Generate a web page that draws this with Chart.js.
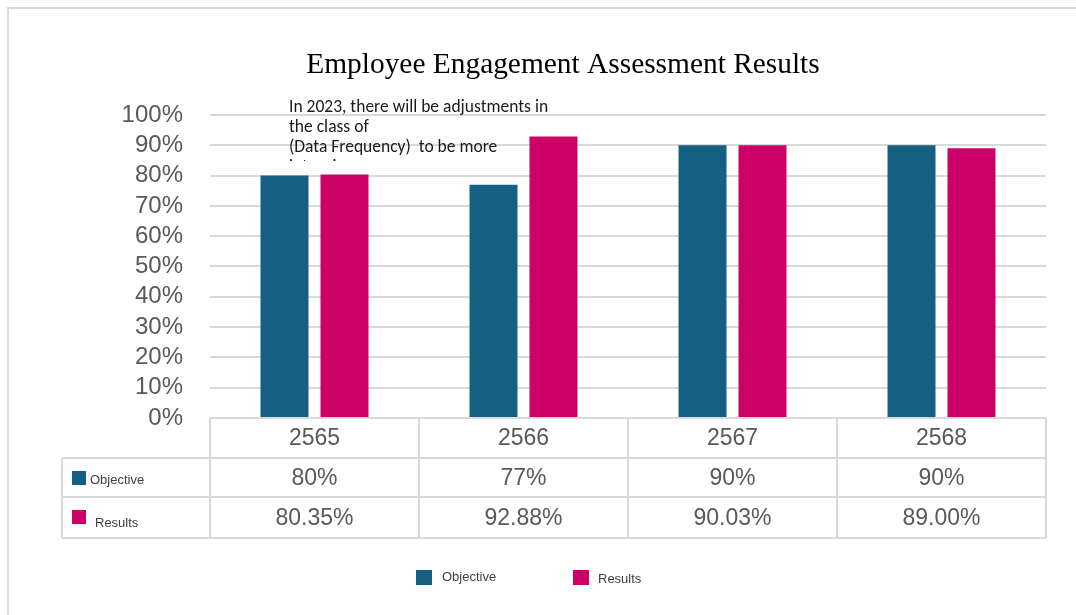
<!DOCTYPE html>
<html>
<head>
<meta charset="utf-8">
<script src="https://cdn.jsdelivr.net/npm/chart.js@4/dist/chart.umd.min.js"></script>
<style>
  html, body { margin: 0; padding: 0; background: #fff; }
  canvas { display: block; }
</style>
</head>
<body>
<canvas id="chart" width="1076" height="615"></canvas>
<script>
// chart data
const categories = ['2565', '2566', '2567', '2568']
const objective = [80, 77, 90, 90]
const results = [80.35, 92.88, 90.03, 89.00]
const seriesNames = ['Objective', 'Results']
const yTicks = [0, 10, 20, 30, 40, 50, 60, 70, 80, 90, 100]
const noteLines = ['In 2023, there will be adjustments in', 'the class of', '(Data Frequency)  to be more', 'intensive.']

const COLORS = ['#156082', '#cc0066']
const GRID = '#d9d9d9'
const TEXT = '#595959'
const SANS = '"Liberation Sans", Arial, sans-serif'

const fmtObjective = v => v + '%'
const fmtResults = v => v.toFixed(2) + '%'

// draws the data table under the plot, the frame, the note and the legend
const extras = {
  id: 'extras',
  afterDraw(chart){
    const ctx = chart.ctx
    const x = chart.scales.x
    const area = chart.chartArea
    const colW = (area.right - area.left) / categories.length
    const rows = [area.bottom, area.bottom + 40, area.bottom + 79, area.bottom + 120]
    const labelLeft = 62
    ctx.save()

    // frame
    ctx.strokeStyle = GRID; ctx.lineWidth = 2
    ctx.beginPath(); ctx.moveTo(8, 615); ctx.lineTo(8, 8); ctx.lineTo(1076, 8); ctx.stroke()

    // table grid
    ctx.beginPath()
    ctx.moveTo(area.left, rows[0]); ctx.lineTo(area.right, rows[0])
    for(let r = 1; r < rows.length; r++){ ctx.moveTo(labelLeft, rows[r]); ctx.lineTo(area.right, rows[r]) }
    for(let i = 0; i <= categories.length; i++){
      const cx = area.left + i * colW
      ctx.moveTo(cx, rows[0]); ctx.lineTo(cx, rows[3])
    }
    ctx.moveTo(labelLeft, rows[1]); ctx.lineTo(labelLeft, rows[3])
    ctx.stroke()

    // table text
    ctx.fillStyle = TEXT; ctx.textAlign = 'center'; ctx.textBaseline = 'middle'
    ctx.font = '23px ' + SANS
    categories.forEach((c, i) => {
      const cx = x.getPixelForValue(i)
      ctx.fillText(c, cx, (rows[0] + rows[1]) / 2 + 1)
      ctx.fillText(fmtObjective(objective[i]), cx, (rows[1] + rows[2]) / 2 + 1)
      ctx.fillText(fmtResults(results[i]), cx, (rows[2] + rows[3]) / 2 + 1)
    })

    // row labels
    ctx.textAlign = 'left'; ctx.font = '13px ' + SANS
    ctx.fillStyle = COLORS[0]; ctx.fillRect(72, rows[1] + 13, 14, 14)
    ctx.fillStyle = COLORS[1]; ctx.fillRect(72, rows[2] + 13, 14, 14)
    ctx.fillStyle = '#404040'
    ctx.fillText(seriesNames[0], 90, rows[1] + 22)
    ctx.fillText(seriesNames[1], 95, rows[2] + 26)

    // legend
    const legX = [416, 573], legTxt = [442, 598], legTy = [577, 579]
    seriesNames.forEach((n, i) => {
      ctx.fillStyle = COLORS[i]; ctx.fillRect(legX[i], 570, 16, 15)
      ctx.fillStyle = '#404040'; ctx.fillText(n, legTxt[i], legTy[i])
    })

    // note text box (clipped like the original)
    ctx.beginPath(); ctx.rect(280, 95, 300, 66); ctx.clip()
    ctx.fillStyle = '#1a1a1a'; ctx.font = '17.5px Carlito, Lato, ' + SANS
    noteLines.forEach((t, i) => ctx.fillText(t, 289, 108 + i * 20))
    ctx.restore()
  }
}

new Chart(document.getElementById('chart'), {
  type: 'bar',
  data: {
    labels: categories,
    datasets: [
      { label: seriesNames[0], data: objective, backgroundColor: COLORS[0] },
      { label: seriesNames[1], data: results, backgroundColor: COLORS[1] }
    ]
  },
  options: {
    responsive: false,
    animation: false,
    devicePixelRatio: 1,
    categoryPercentage: 0.574,
    barPercentage: 0.8,
    layout: { padding: { top: 48, right: 30, bottom: 0, left: 80 } },
    plugins: {
      legend: { display: false },
      tooltip: { enabled: false },
      title: {
        display: true,
        text: 'Employee Engagement Assessment Results',
        color: '#000',
        font: { family: '"Liberation Serif", "Times New Roman", serif', size: 29.4, weight: 'normal' },
        padding: { top: 0, bottom: 31.7 }
      }
    },
    scales: {
      x: {
        ticks: { display: false },
        grid: { display: false },
        border: { display: false },
        afterFit: s => { s.height = 197 }
      },
      y: {
        min: 0, max: 100,
        afterBuildTicks: s => { s.ticks = yTicks.map(v => ({ value: v })) },
        afterFit: s => { s.width = 130 },
        ticks: {
          autoSkip: false,
          callback: v => v + '%',
          color: TEXT,
          padding: 27,
          font: { family: SANS, size: 24 }
        },
        grid: { color: GRID, lineWidth: 2, drawTicks: false },
        border: { display: false }
      }
    }
  },
  plugins: [extras]
})
</script>
</body>
</html>
